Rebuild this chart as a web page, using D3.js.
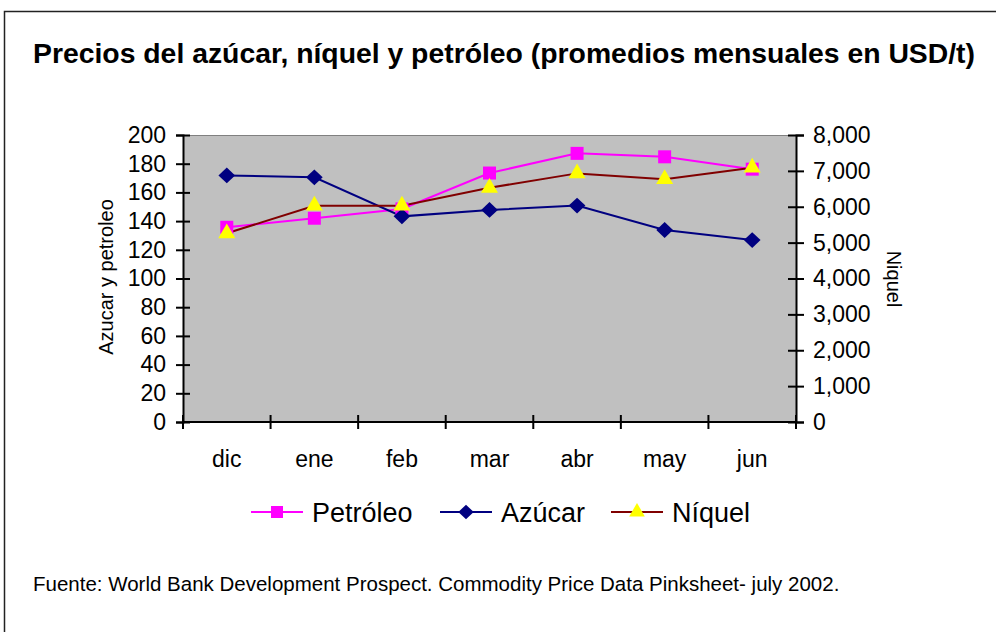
<!DOCTYPE html>
<html>
<head>
<meta charset="utf-8">
<script src="https://cdn.jsdelivr.net/npm/d3@7"></script>
<style>
  body { margin: 0; background: #fff; }
  text { font-family: "Liberation Sans", Arial, sans-serif; fill: #000; }
</style>
</head>
<body>
<svg id="chart" width="996" height="632"></svg>
<script>
// datos
var meses = ["dic", "ene", "feb", "mar", "abr", "may", "jun"];
var petroleo = [135.7, 142, 148.5, 173.5, 187.2, 184.8, 176.2];
var azucar = [171.8, 170.5, 143.3, 147.8, 150.8, 133.8, 126.8];
var niquel = [5260, 6030, 6030, 6530, 6930, 6770, 7090];
var ticksIzq = d3.range(0, 201, 20);
var ticksDer = d3.range(0, 8001, 1000);

var svg = d3.select("#chart");
var m = {left: 183, right: 796, top: 135, bottom: 422};

// marco exterior
svg.append("rect").attr("x", 4.5).attr("y", 11.5).attr("width", 1000).attr("height", 640)
  .attr("fill", "none").attr("stroke", "#222").attr("stroke-width", 1.5);

svg.append("text").attr("x", 33).attr("y", 63)
  .attr("font-size", 28).attr("font-weight", "bold")
  .attr("textLength", 942).attr("lengthAdjust", "spacingAndGlyphs")
  .text("Precios del azúcar, níquel y petróleo (promedios mensuales en USD/t)");

var x = d3.scaleBand().domain(meses).range([m.left, m.right]);
var yIzq = d3.scaleLinear().domain([0, 200]).range([m.bottom, m.top]);
var yDer = d3.scaleLinear().domain([0, 8000]).range([m.bottom, m.top]);

// area del grafico
svg.append("rect").attr("x", m.left).attr("y", m.top)
  .attr("width", m.right - m.left).attr("height", m.bottom - m.top)
  .attr("fill", "#c0c0c0");
svg.append("line").attr("x1", m.left).attr("x2", m.right).attr("y1", m.top + 0.5).attr("y2", m.top + 0.5)
  .attr("stroke", "#808080").attr("stroke-width", 1);

// ejes
var ejeIzq = svg.append("g").attr("transform", "translate(" + m.left + ",0)")
  .call(d3.axisLeft(yIzq).tickValues(ticksIzq).tickSize(7).tickPadding(10));
var ejeDer = svg.append("g").attr("transform", "translate(" + m.right + ",0)")
  .call(d3.axisRight(yDer).tickValues(ticksDer).tickFormat(d3.format(",")).tickSize(8).tickPadding(9));
var ejeX = svg.append("g").attr("transform", "translate(0," + m.bottom + ")")
  .call(d3.axisBottom(x).tickSize(0).tickPadding(45));

[ejeIzq, ejeDer, ejeX].forEach(function (g) {
  g.select(".domain").attr("stroke", "#000").attr("stroke-width", 2);
  g.selectAll(".tick line").attr("stroke", "#000").attr("stroke-width", 2);
  g.selectAll("text").attr("font-size", 23).attr("fill", "#000")
    .attr("font-family", "Liberation Sans, Arial, sans-serif");
});
// las marcas cruzan el eje (estilo excel)
ejeIzq.selectAll(".tick line").attr("x1", 7);
ejeDer.selectAll(".tick line").attr("x1", -8);
// marcas entre categorias
var bordes = d3.range(meses.length + 1).map(function (i) { return m.left + i * x.bandwidth(); });
svg.append("g").selectAll("line").data(bordes).join("line")
  .attr("x1", function (d) { return d; }).attr("x2", function (d) { return d; })
  .attr("y1", m.bottom - 7).attr("y2", m.bottom + 7)
  .attr("stroke", "#000").attr("stroke-width", 2);
ejeX.select(".domain").attr("d", "M" + m.left + ",0H" + m.right);
ejeX.selectAll("text").attr("dy", "0");

// titulos de los ejes
svg.append("text").attr("transform", "translate(113,277) rotate(-90)")
  .attr("text-anchor", "middle").attr("font-size", 20).text("Azucar y petroleo");
svg.append("text").attr("transform", "translate(887,279) rotate(90)")
  .attr("text-anchor", "middle").attr("font-size", 20).text("Niquel");

var cx = function (i) { return x(meses[i]) + x.bandwidth() / 2; };

// rombo mas ancho que el de d3
var rombo = {
  draw: function (ctx, size) {
    var w = Math.sqrt(size) * 0.55, h = Math.sqrt(size) * 0.52;
    ctx.moveTo(0, -h); ctx.lineTo(w, 0); ctx.lineTo(0, h); ctx.lineTo(-w, 0); ctx.closePath();
  }
};

var series = [
  {nombre: "Petróleo", datos: petroleo, escala: yIzq, linea: "#ff00ff", relleno: "#ff00ff", forma: d3.symbolSquare, tam: 169},
  {nombre: "Azúcar", datos: azucar, escala: yIzq, linea: "#000080", relleno: "#000080", forma: rombo, tam: 230},
  {nombre: "Níquel", datos: niquel, escala: yDer, linea: "#800000", relleno: "#ffff00", forma: d3.symbolTriangle, tam: 125}
];

series.forEach(function (s) {
  var linea = d3.line().x(function (d, i) { return cx(i); }).y(function (d) { return s.escala(d); });
  svg.append("path").datum(s.datos).attr("d", linea)
    .attr("fill", "none").attr("stroke", s.linea).attr("stroke-width", 2);
});
series.forEach(function (s) {
  svg.append("g").selectAll("path").data(s.datos).join("path")
    .attr("transform", function (d, i) { return "translate(" + cx(i) + "," + s.escala(d) + ")"; })
    .attr("d", d3.symbol().type(s.forma).size(s.tam))
    .attr("fill", s.relleno);
});

// leyenda
var leyendaX = [251, 440, 611];
series.forEach(function (s, i) {
  var g = svg.append("g").attr("transform", "translate(" + leyendaX[i] + ",512)");
  g.append("line").attr("x1", 0).attr("x2", 52).attr("stroke", s.linea).attr("stroke-width", 2);
  g.append("path").attr("transform", "translate(26,0)")
    .attr("d", d3.symbol().type(s.forma).size(s.tam * 0.85)).attr("fill", s.relleno);
  g.append("text").attr("x", 61).attr("y", 10).attr("font-size", 27).text(s.nombre);
});

svg.append("text").attr("x", 33).attr("y", 591).attr("font-size", 20.5)
  .text("Fuente: World Bank Development Prospect. Commodity Price Data Pinksheet- july 2002.");
</script>
</body>
</html>
